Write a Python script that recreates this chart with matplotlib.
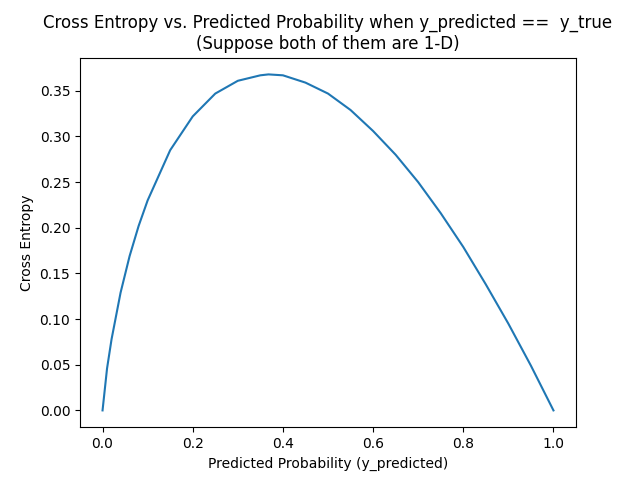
import matplotlib
matplotlib.use("Agg")
import matplotlib.pyplot as plt

# values
pred_prob = [0.0, 0.01, 0.02, 0.04, 0.06, 0.08, 0.1, 0.15, 0.2, 0.25, 0.3, 0.35,
             0.368, 0.4, 0.45, 0.5, 0.55, 0.6, 0.65, 0.7, 0.75, 0.8, 0.85, 0.9, 0.95, 1.0]
cross_entropy = [0.0, 0.046, 0.078, 0.129, 0.169, 0.202, 0.230, 0.285, 0.322, 0.347,
                 0.361, 0.367, 0.368, 0.367, 0.359, 0.347, 0.329, 0.306, 0.280, 0.250,
                 0.216, 0.179, 0.138, 0.095, 0.049, 0.0]

fig, ax = plt.subplots(figsize=(6.4, 4.8), dpi=100)
ax.plot(pred_prob, cross_entropy)
ax.set_title("Cross Entropy vs. Predicted Probability when y_predicted ==  y_true\n(Suppose both of them are 1-D)")
ax.set_xlabel("Predicted Probability (y_predicted)")
ax.set_ylabel("Cross Entropy")
fig.savefig("out.png")
